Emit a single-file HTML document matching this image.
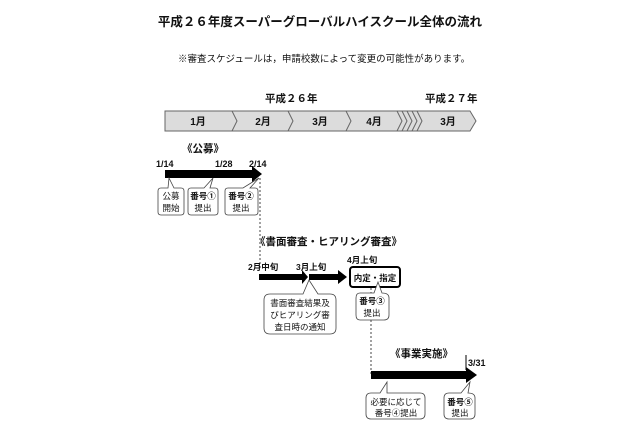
<!DOCTYPE html>
<html><head><meta charset="utf-8"><style>
body{margin:0;background:#fff}
svg{display:block}
text{font-family:"Liberation Sans","Noto Sans CJK JP",sans-serif;fill:#111}
.b{font-weight:bold}
</style></head><body>
<svg width="640" height="426" viewBox="0 0 640 426">
<text x="320" y="26" class="b" font-size="12.5" text-anchor="middle">平成２６年度スーパーグローバルハイスクール全体の流れ</text>
<text x="178" y="62" font-size="9.5">※審査スケジュールは，申請校数によって変更の可能性があります。</text>
<text x="265" y="102" class="b" font-size="10.5">平成２６年</text>
<text x="425" y="102" class="b" font-size="10.5">平成２７年</text>
<!-- bar -->
<path d="M165,111 H470 L476,121 L470,131 H165 Z" fill="#dcdcdc" stroke="#666" stroke-width="1"/>
<g fill="none" stroke="#666" stroke-width="1">
<path d="M232,111 L237,121 L232,131"/>
<path d="M288,111 L293,121 L288,131"/>
<path d="M346,111 L351,121 L346,131"/>
<path d="M397,111 L402,121 L397,131"/>
<path d="M402,111 L407,121 L402,131"/>
<path d="M407,111 L412,121 L407,131"/>
<path d="M412,111 L417,121 L412,131"/>
<path d="M417,111 L422,121 L417,131"/>
</g>
<g class="b" font-size="10" text-anchor="middle">
<text x="198" y="125">1月</text><text x="263" y="125">2月</text><text x="320" y="125">3月</text><text x="374" y="125">4月</text><text x="448" y="125">3月</text>
</g>
<!-- 公募 -->
<text x="182" y="152" class="b" font-size="10.5">《公募》</text>
<g class="b" font-size="9"><text x="156" y="167">1/14</text><text x="215" y="167">1/28</text><text x="249" y="167">2/14</text></g>
<path d="M165,170 H252 V166 L262,174 L252,182 V178 H165 Z" fill="#000"/>
<line x1="260" y1="178" x2="260" y2="268" stroke="#444" stroke-dasharray="2,2"/>
<g fill="#fff" stroke="#444" stroke-width="0.8">
<path d="M161,188 H168 L169,178 L174,188 H181 Q184,188 184,191 V212 Q184,215 181,215 H161 Q158,215 158,212 V191 Q158,188 161,188 Z"/>
<path d="M191,188 H204 L213,178 L210,188 H215 Q218,188 218,191 V212 Q218,215 215,215 H191 Q188,215 188,212 V191 Q188,188 191,188 Z"/>
<path d="M228,188 H243 L259,178 L250,188 H255 Q258,188 258,191 V212 Q258,215 255,215 H228 Q225,215 225,212 V191 Q225,188 228,188 Z"/>
</g>
<g font-size="8.5" text-anchor="middle">
<text x="171" y="199">公募</text><text x="171" y="211">開始</text>
<text x="203" y="199" class="b">番号①</text><text x="203" y="211">提出</text>
<text x="241" y="199" class="b">番号②</text><text x="241" y="211">提出</text>
</g>
<!-- 書面審査 -->
<text x="255" y="245" class="b" font-size="10.5">《書面審査・ヒアリング審査》</text>
<g class="b" font-size="8.5"><text x="248" y="270">2月中旬</text><text x="296" y="270">3月上旬</text><text x="347" y="263">4月上旬</text></g>
<path d="M259,274 H302 V270 L308,277 L302,284 V280 H259 Z" fill="#000"/>
<path d="M309,274 H338 V270 L347,277 L338,284 V280 H309 Z" fill="#000"/>
<rect x="350" y="267" width="50" height="20" rx="3" fill="#fff" stroke="#000" stroke-width="2"/>
<text x="375" y="281" class="b" font-size="8.5" text-anchor="middle">内定・指定</text>
<line x1="371" y1="288" x2="371" y2="376" stroke="#444" stroke-dasharray="2,2"/>
<g fill="#fff" stroke="#444" stroke-width="0.8">
<path d="M270,294 H303 L309,280 L318,294 H330 Q336,294 336,300 V328 Q336,334 330,334 H270 Q264,334 264,328 V300 Q264,294 270,294 Z"/>
<path d="M360,293 H374 L378,282 L382,293 Q389,293 389,298 V315 Q389,320 384,320 H360 Q356,320 356,315 V298 Q356,293 360,293 Z"/>
</g>
<g font-size="8.5" text-anchor="middle">
<text x="300" y="306">書面審査結果及</text><text x="300" y="318">びヒアリング審</text><text x="300" y="330">査日時の通知</text>
<text x="372" y="304" class="b">番号③</text><text x="372" y="316">提出</text>
</g>
<!-- 事業実施 -->
<text x="390" y="357" class="b" font-size="10.5">《事業実施》</text>
<line x1="466" y1="355" x2="466" y2="370" stroke="#000" stroke-width="1"/>
<text x="468" y="366" class="b" font-size="9">3/31</text>
<path d="M371,371 H466 V367 L477,375 L466,383 V379 H371 Z" fill="#000"/>
<g fill="#fff" stroke="#444" stroke-width="0.8">
<path d="M371,393 H380 L387,382 L387,393 H420 Q425,393 425,398 V414 Q425,419 420,419 H371 Q366,419 366,414 V398 Q366,393 371,393 Z"/>
<path d="M449,393 H461 L470,382 L468,393 Q475,393 475,398 V414 Q475,419 470,419 H449 Q444,419 444,414 V398 Q444,393 449,393 Z"/>
</g>
<g font-size="8.5" text-anchor="middle">
<text x="396" y="405">必要に応じて</text><text x="396" y="416">番号④提出</text>
<text x="460" y="405" class="b">番号⑤</text><text x="460" y="416">提出</text>
</g>
</svg>
</body></html>
